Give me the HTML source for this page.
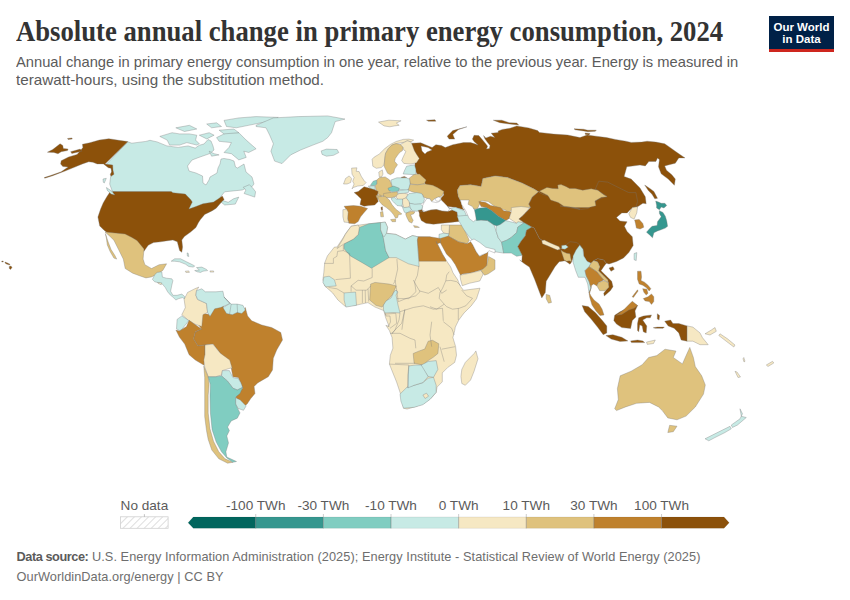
<!DOCTYPE html>
<html><head><meta charset="utf-8">
<style>
html,body{margin:0;padding:0;background:#fff;width:850px;height:600px;overflow:hidden;position:relative}
body{font-family:"Liberation Sans",sans-serif}
.t{position:absolute;white-space:nowrap;transform-origin:0 0}
#title{left:16px;top:15px;font-family:"Liberation Serif",serif;font-weight:bold;font-size:29px;color:#333;line-height:32px;transform:scaleX(0.92)}
.sub{left:16px;font-size:15px;color:#5b5b5b;line-height:18px}
.foot{left:16.5px;font-size:12.75px;color:#6e6e6e;line-height:14px;letter-spacing:0.06px}
.foot b{color:#5b5b5b;letter-spacing:-0.45px}
#logo{position:absolute;left:769px;top:16px;width:65px;height:33px;background:#002147;border-bottom:3px solid #ce261e;color:#fff;font-weight:bold;font-size:11.5px;line-height:12px;text-align:center}
</style></head><body>
<svg id="map" width="850" height="600" style="position:absolute;left:0;top:0" stroke="#777" stroke-width="0.35" stroke-linejoin="round">
<defs><pattern id="hatch" width="4" height="4" patternUnits="userSpaceOnUse" patternTransform="rotate(45)"><rect width="4" height="4" fill="#fff"/><line x1="0" y1="0" x2="0" y2="4" stroke="#ccc" stroke-width="1.5"/></pattern></defs>
<path d="M127.8,141.8L131.8,143.2L145.9,141.4L150.0,140.3L157.1,141.9L166.9,145.9L178.2,147.4L188.1,145.9L195.2,148.1L199.4,145.2L204.0,144.0L208.0,139.5L211.0,141.0L213.0,146.0L214.0,150.0L210.0,153.5L200.0,157.0L192.0,160.0L187.5,166.0L189.0,171.0L196.0,173.0L202.5,176.0L203.0,183.0L206.0,185.0L209.0,180.0L210.0,177.0L217.0,173.0L218.0,168.0L220.0,164.0L221.0,159.0L224.0,158.5L230.0,159.5L234.0,161.0L235.5,167.0L237.5,168.0L244.0,164.0L246.0,172.0L252.0,177.0L254.0,184.0L250.0,189.0L249.4,186.5L242.3,190.0L233.5,190.9L224.7,191.8L220.3,197.1L222.9,200.6L228.2,202.3L233.5,198.8L238.8,197.1L235.3,204.1L224.7,205.0L221.2,202.3L214.1,209.4L207.1,212.9L192.9,212.9L175.3,200.6L140.0,200.6L112.3,191.2L109.7,184.1L110.6,177.0L111.5,173.0L111.5,168.5L106.0,164.5Z" fill="#c7eae5"/>
<path d="M243.2,187.3L249.4,184.7L252.9,188.2L255.6,191.8L254.7,197.1L249.4,195.3L244.1,193.5L245.9,190.0Z" fill="#c7eae5"/>
<path d="M127.9,141.6L120.5,140.6L108.8,138.7L99.3,140.1L89.8,142.7L82.4,144.3L82.9,147.5L81.3,149.6L77.1,154.4L68.6,157.0L61.2,160.7L60.6,163.9L62.8,166.5L68.1,167.1L61.2,171.8L50.6,175.5L44.2,177.6L44.8,178.2L52.7,175.7L64.4,171.3L74.9,167.1L82.4,163.9L88.7,161.8L92.9,162.3L97.2,163.9L103.5,163.9L108.3,167.7L111.0,168.3L111.7,171.7L110.3,174.3L111.0,176.3L114.0,174.3L113.0,170.3L112.7,165.0L105.0,164.0Z" fill="#8c510a"/>
<path d="M103.0,179.0L106.3,178.3L104.3,183.0L103.3,182.3Z" fill="#c7eae5"/>
<path d="M47.4,152.2L52.7,149.6L60.1,143.8L62.8,145.4L63.3,148.5L68.1,149.1L67.5,150.6L61.2,151.7L58.0,153.8L53.8,152.4Z" fill="#8c510a"/>
<path d="M70.7,151.7L80.2,149.1L81.8,151.2L71.8,153.5Z" fill="#8c510a"/>
<path d="M67.5,138.5L71.8,137.9L72.3,139.0L68.1,139.5Z" fill="#8c510a"/>
<path d="M110.3,191.5L171.2,191.5L172.9,192.7L185.3,194.1L186.2,195.0L190.6,199.4L192.3,202.1L188.8,209.1L195.9,206.5L202.9,203.8L213.5,202.1L218.8,198.5L222.3,195.9L224.1,199.4L220.6,202.9L216.2,208.2L211.8,210.9L204.7,214.4L200.3,219.7L198.5,222.4L195.9,227.6L190.6,232.1L184.4,236.5L181.8,240.0L182.6,247.1L181.8,252.3L179.6,250.6L177.3,241.8L172.9,240.0L165.9,240.9L160.6,241.8L153.5,242.6L148.2,245.3L143.8,251.5L141.2,247.1L135.9,240.9L132.4,238.2L127.1,236.5L116.5,233.8L107.6,232.9L104.1,230.3L99.7,225.9L97.9,217.1L100.6,209.1L103.2,202.9L106.8,196.8Z" fill="#8c510a"/>
<path d="M105.0,232.0L125.0,234.0L131.0,237.0L137.0,240.5L144.0,249.0L143.1,259.1L144.9,264.7L151.5,268.5L159.1,264.7L166.6,263.8L162.8,270.4L157.2,274.1L151.5,276.9L145.9,277.9L140.2,276.0L132.7,273.2L125.2,268.5L123.3,259.1L118.6,249.6L113.9,240.2L110.1,236.5Z" fill="#dfc27d"/>
<path d="M105.4,233.6L108.2,242.1L111.1,249.6L114.8,255.3L116.7,259.1L113.9,258.1L110.1,251.5L107.3,244.9L106.4,238.4Z" fill="#dfc27d"/>
<path d="M106.4,187.5L112.0,191.3L114.8,195.1L111.1,194.1L107.3,190.4Z" fill="#c7eae5"/>
<path d="M216.6,137.6L226.5,132.7L238.8,132.7L246.2,140.1L256.1,148.8L248.7,152.5L243.8,151.2L246.2,157.4L238.8,159.9L231.4,153.7L224.0,152.5L228.9,147.5L231.4,142.6L219.1,141.3Z" fill="#c7eae5"/>
<path d="M209.2,151.2L214.1,153.7L219.1,154.9L211.6,156.2Z" fill="#c7eae5"/>
<path d="M159.8,136.4L172.1,132.7L179.5,133.9L189.4,133.9L196.8,135.2L195.6,140.1L199.3,143.8L196.8,145.1L186.9,142.6L179.5,145.1L169.6,145.1L167.2,140.1Z" fill="#c7eae5"/>
<path d="M175.8,127.8L189.4,125.3L196.8,129.0L184.5,131.5Z" fill="#c7eae5"/>
<path d="M199.3,135.2L209.2,132.7L214.1,135.2L206.7,138.9Z" fill="#c7eae5"/>
<path d="M206.7,124.0L216.6,122.8L221.5,126.5L211.6,127.8Z" fill="#c7eae5"/>
<path d="M219.1,130.2L233.9,129.0L238.8,132.7L224.0,133.9Z" fill="#c7eae5"/>
<path d="M224.0,120.4L238.8,117.9L256.1,116.6L278.3,117.4L273.4,120.4L261.0,122.8L248.7,125.3L236.3,127.8L226.5,126.5Z" fill="#c7eae5"/>
<path d="M9.2,266.5L11.0,266.0L12.0,267.5L10.5,269.5L9.3,268.5Z" fill="#8c510a"/>
<path d="M5.0,262.0L7.5,263.0L10.0,264.2L9.5,265.0L6.5,264.0L5.0,263.0Z" fill="#8c510a"/>
<path d="M1.8,261.0L3.2,261.0L3.2,262.0L1.8,262.0Z" fill="#8c510a"/>
<path d="M256.1,125.3L273.4,117.9L298.1,116.6L327.7,115.9L345.0,119.1L335.2,121.6L331.5,132.7L327.7,137.6L322.8,141.3L312.9,145.1L300.6,150.0L290.7,154.9L282.0,163.6L274.6,161.1L270.9,151.2L273.4,143.8L269.7,135.2L266.0,127.8L256.1,126.5Z" fill="#c7eae5"/>
<path d="M321.2,150.9L326.5,149.1L337.1,149.5L338.8,152.6L333.5,155.3L326.5,156.2L322.1,154.4Z" fill="#c7eae5"/>
<path d="M411.8,143.2L420.8,142.8L426.0,145.0L432.1,147.5L435.9,144.7L441.5,145.6L445.3,147.5L452.8,144.7L463.5,142.6L470.6,142.6L474.7,143.8L478.0,145.0L474.0,141.5L472.4,139.1L474.1,135.3L478.8,135.6L482.4,139.7L485.3,143.2L487.6,146.2L486.5,149.1L489.4,148.5L490.0,145.6L487.6,142.6L485.0,139.0L483.5,135.6L485.9,137.9L490.6,136.2L494.7,137.4L491.2,133.2L498.2,132.6L498.2,130.9L502.4,129.4L510.0,128.2L516.8,125.9L528.8,127.9L537.6,130.6L539.4,132.4L553.5,134.1L567.6,135.0L580.0,137.6L587.1,135.0L594.1,135.9L606.5,137.6L615.3,139.4L625.9,141.2L631.2,142.4L641.8,142.1L647.1,141.2L655.9,142.1L664.7,143.8L670.0,147.4L677.1,152.6L685.0,157.9L678.8,157.9L675.3,163.2L668.2,165.0L664.7,165.9L666.5,170.3L671.8,174.7L675.3,179.1L674.4,185.3L668.2,179.1L661.2,173.8L658.5,166.8L659.4,159.7L657.6,157.9L655.9,161.5L648.8,161.5L645.3,165.9L640.0,165.0L626.8,166.8L624.1,176.5L631.2,179.1L640.0,187.9L645.3,196.8L646.2,203.8L642.9,203.2L637.6,206.8L627.1,210.3L595.3,210.3L560.0,210.3L538.5,191.8L534.1,189.1L521.8,182.9L507.6,177.6L495.3,175.9L482.9,178.5L481.2,186.5L470.6,184.7L460.0,185.6L457.4,190.0L458.2,196.2L460.9,201.5L462.7,208.2L464.6,210.1L455.2,207.3L447.6,206.4L441.1,201.6L441.1,197.9L443.9,195.1L443.0,192.0L436.0,190.0L427.0,187.0L423.0,180.0L420.0,175.5L416.7,173.5L414.8,167.9L415.0,163.0L417.5,158.5L413.0,151.0L411.0,145.0Z" fill="#8c510a"/>
<path d="M447.2,136.2L452.8,130.6L466.9,126.8L458.5,129.6L452.8,134.4L454.7,139.1L449.1,139.1Z" fill="#8c510a"/>
<path d="M421.0,146.0L428.0,147.5L432.0,150.0L427.0,152.0L425.0,154.0L422.0,151.0Z" fill="#ffffff"/>
<path d="M378.5,122.1L388.8,120.2L401.1,120.8L396.4,123.1L399.2,125.3L394.5,125.9L389.8,126.8L384.1,125.9Z" fill="#f6e8c3"/>
<path d="M426.5,120.2L434.9,119.7L435.9,121.2L428.4,121.2Z" fill="#8c510a"/>
<path d="M493.3,120.2L501.8,120.2L509.3,122.7L516.8,123.1L518.7,124.9L509.3,124.0L499.9,122.7Z" fill="#8c510a"/>
<path d="M644.7,185.0L650.2,188.7L653.9,191.4L657.5,198.3L654.8,198.8L652.0,194.2L648.3,190.5L646.5,187.8Z" fill="#8c510a"/>
<path d="M457.4,190.0L460.0,185.6L470.6,184.7L481.2,186.5L482.9,178.5L495.3,175.9L507.6,177.6L521.8,182.9L534.1,189.1L538.5,191.8L532.3,197.1L528.8,204.1L530.6,207.6L518.2,208.5L511.2,210.3L507.6,212.9L505.9,210.3L495.3,206.8L488.2,201.5L481.2,200.6L477.6,208.5L470.6,209.4L465.3,205.0L460.9,201.5L458.2,196.2Z" fill="#dfc27d"/>
<path d="M574.0,128.8L583.6,129.2L587.8,130.2L596.3,130.2L595.3,131.3L587.8,131.7L583.6,130.9L575.1,129.8Z" fill="#8c510a"/>
<path d="M585.0,133.0L590.0,133.5L589.0,135.0L585.5,134.5Z" fill="#8c510a"/>
<path d="M372.1,159.2L374.2,157.1L379.1,154.2L384.8,148.6L390.4,144.4L396.1,141.5L403.1,139.4L408.8,139.1L413.7,140.1L410.9,141.9L407.3,140.8L404.5,142.2L400.3,142.9L396.1,143.6L391.8,145.1L388.3,148.6L385.5,153.5L384.8,158.5L384.1,164.8L381.2,167.6L376.3,168.3L372.8,166.2Z" fill="#f6e8c3"/>
<path d="M384.8,158.5L385.5,153.5L388.3,148.6L391.8,145.1L396.1,143.6L400.3,144.4L403.1,147.2L402.4,150.7L400.3,152.1L398.2,154.2L395.3,158.5L394.6,161.3L397.5,164.8L394.6,169.1L393.9,172.6L390.4,174.7L387.6,173.3L384.1,166.2Z" fill="#dfc27d"/>
<path d="M400.3,144.4L404.5,142.2L407.3,140.8L410.9,141.9L412.3,145.1L414.4,150.7L416.5,154.2L419.3,158.5L416.5,162.7L410.9,164.1L403.8,163.4L401.7,160.6L403.1,157.1L404.5,154.2L405.9,151.4L403.8,150.0L403.1,147.2Z" fill="#f6e8c3"/>
<path d="M406.6,166.2L414.4,164.8L415.8,169.1L415.8,174.7L403.1,174.0L404.5,170.5Z" fill="#c7eae5"/>
<path d="M409.2,178.2L413.9,174.5L419.5,174.0L426.1,180.1L424.2,183.9L417.6,184.8L410.1,183.9Z" fill="#dfc27d"/>
<path d="M401.2,177.3L404.5,176.4L406.8,177.8L401.6,178.0Z" fill="#8c510a"/>
<path d="M390.8,180.1L396.9,177.8L406.4,177.8L409.6,179.2L410.1,183.9L409.2,189.5L406.4,190.5L398.8,189.5L392.2,186.7Z" fill="#c7eae5"/>
<path d="M376.7,180.1L379.5,177.6L385.2,176.9L389.4,179.8L390.8,182.6L392.2,186.8L389.4,189.6L390.8,192.5L388.0,195.3L380.2,196.0L377.4,193.2L376.0,189.6L375.3,185.8L376.7,184.0Z" fill="#dfc27d"/>
<path d="M378.8,172.0L382.3,169.9L383.0,174.1L381.6,176.9L379.2,176.6Z" fill="#f6e8c3"/>
<path d="M370.3,185.4L373.2,181.2L376.7,180.1L376.7,184.0L374.6,185.8Z" fill="#80cdc1"/>
<path d="M368.2,186.1L374.6,185.8L375.3,189.6L371.8,189.6Z" fill="#c7eae5"/>
<path d="M351.6,168.1L356.9,167.8L356.2,171.3L359.1,171.6L361.2,176.2L364.0,180.5L366.1,182.6L363.3,185.4L357.6,186.1L353.4,187.5L352.0,188.9L354.1,184.0L352.7,181.2L354.1,177.6L352.0,174.1Z" fill="#f6e8c3"/>
<path d="M343.5,184.0L345.6,178.4L349.2,175.9L351.6,178.4L350.6,182.6L347.1,184.0Z" fill="#f6e8c3"/>
<path d="M408.2,190.0L410.1,184.4L417.6,184.8L425.2,183.9L432.7,185.3L437.4,187.6L444.0,191.4L442.1,196.1L436.5,198.0L434.5,198.8L431.6,201.6L429.8,198.8L426.9,198.4L423.2,196.9L423.3,195.2L417.6,193.3L411.1,191.4Z" fill="#dfc27d"/>
<path d="M422.2,206.4L424.1,202.6L426.9,198.4L429.8,198.8L431.6,201.6L436.4,202.6L439.2,201.6L441.1,199.8L443.9,202.6L447.6,206.4L449.5,209.2L447.6,211.5L442.0,211.1L436.4,209.6L430.7,210.1L425.1,211.5L422.2,210.1Z" fill="#ffffff"/>
<path d="M434.9,198.8L438.2,196.9L441.1,197.9L439.2,201.2L436.4,201.2Z" fill="#ffffff"/>
<path d="M354.1,192.6L358.2,191.5L364.1,186.8L368.8,187.9L374.7,189.7L378.2,191.5L377.1,196.8L378.2,201.5L374.7,205.0L368.8,205.6L364.1,206.2L360.0,204.4L361.2,199.1L357.6,195.6Z" fill="#8c510a"/>
<path d="M344.1,206.2L353.5,205.6L360.6,206.2L367.6,208.5L364.1,212.6L360.6,216.8L358.2,221.5L354.7,223.8L348.8,223.2L347.6,219.1L346.5,209.7Z" fill="#bf812d"/>
<path d="M342.9,209.7L346.5,209.1L348.2,212.1L347.6,219.1L348.8,222.6L344.1,222.1L342.9,216.8Z" fill="#f6e8c3"/>
<path d="M383.6,193.5L389.9,192.6L397.0,191.7L397.8,193.8L396.6,196.3L391.4,197.7L383.6,197.4Z" fill="#dfc27d"/>
<path d="M375.9,195.6L380.6,195.0L381.8,197.9L377.1,198.5Z" fill="#dfc27d"/>
<path d="M377.6,196.8L385.0,196.3L389.2,199.8L392.1,204.8L395.6,209.0L399.1,211.8L401.9,213.9L400.5,214.6L398.4,214.6L397.7,217.5L395.6,218.2L393.5,214.6L390.6,211.1L386.4,207.6L382.5,205.0L379.4,201.5L378.2,199.1Z" fill="#dfc27d"/>
<path d="M390.6,219.6L395.6,218.9L395.6,221.7L392.1,221.7Z" fill="#dfc27d"/>
<path d="M380.4,212.1L382.9,211.5L383.5,216.8L380.8,216.8Z" fill="#dfc27d"/>
<path d="M380.9,207.4L382.4,206.8L382.6,210.3L381.4,210.3Z" fill="#8c510a"/>
<path d="M388.0,188.2L393.6,186.1L399.3,188.2L398.6,191.1L392.2,191.8L388.7,190.3Z" fill="#80cdc1"/>
<path d="M397.0,191.7L400.5,190.3L408.3,189.6L409.0,192.1L404.1,193.5L399.1,193.8L397.7,192.8Z" fill="#c7eae5"/>
<path d="M396.3,195.6L399.1,193.6L404.1,193.3L407.9,194.0L406.2,198.1L402.6,199.5L398.4,199.5L396.3,197.4Z" fill="#f6e8c3"/>
<path d="M391.4,198.1L394.9,197.4L396.3,199.1L402.6,199.1L403.0,201.2L401.9,206.2L397.0,205.5L393.5,201.9L391.7,200.2Z" fill="#c7eae5"/>
<path d="M405.8,198.1L409.0,193.6L416.8,192.6L421.7,193.5L424.5,199.1L423.5,202.6L420.3,204.2L414.6,204.6L409.7,203.5L408.3,201.2Z" fill="#c7eae5"/>
<path d="M402.6,199.1L406.2,197.8L409.0,201.6L410.1,205.5L407.6,207.9L403.7,207.9L402.6,203.4Z" fill="#f6e8c3"/>
<path d="M409.4,203.2L414.6,204.2L420.3,203.9L422.8,206.2L421.4,210.1L416.8,211.3L411.8,210.6L410.1,207.6Z" fill="#c7eae5"/>
<path d="M401.9,205.8L404.1,207.6L409.4,206.9L411.5,209.7L408.3,212.2L406.2,213.2L404.4,212.2Z" fill="#c7eae5"/>
<path d="M406.0,213.1L411.1,211.3L415.0,211.8L413.6,213.9L410.6,214.8L412.0,218.2L413.2,220.3L411.8,223.1L409.0,221.7L406.9,217.5L405.8,214.6Z" fill="#dfc27d"/>
<path d="M413.5,225.6L417.1,226.2L419.4,227.4L414.7,227.6Z" fill="#dfc27d"/>
<path d="M418.2,210.4L421.7,209.7L423.1,211.8L419.6,213.2Z" fill="#8c510a"/>
<path d="M419.4,211.1L424.1,212.0L430.7,210.1L436.4,209.6L442.0,211.1L447.6,211.5L452.4,210.1L457.1,212.0L458.0,217.6L458.9,221.4L450.5,222.4L442.0,223.3L433.5,224.2L426.0,223.3L421.3,220.5L419.4,215.8Z" fill="#8c510a"/>
<path d="M447.6,206.4L449.5,208.5L455.2,207.3L462.7,210.1L464.6,211.0L466.5,215.8L462.7,217.6L458.0,217.6L457.1,212.0L452.4,210.1Z" fill="#c7eae5"/>
<path d="M449.5,225.0L462.3,225.0L469.3,240.2L467.0,243.7L458.8,241.9L448.3,236.1L448.9,233.8Z" fill="#dfc27d"/>
<path d="M441.3,225.0L449.5,225.0L448.9,233.8L443.7,233.2L441.3,229.7Z" fill="#f6e8c3"/>
<path d="M439.0,234.3L443.7,233.2L448.9,233.8L448.3,236.1L440.2,242.5L439.0,237.8Z" fill="#c7eae5"/>
<path d="M440.2,238.4L448.3,236.1L458.8,241.9L467.0,243.7L471.7,241.3L472.8,244.8L476.3,251.8L479.8,256.5L488.0,251.8L486.8,265.8L483.3,269.3L471.7,272.8L462.3,274.0L460.6,275.2L458.8,271.7L455.3,264.7L451.3,258.8L446.6,254.2L440.2,242.5Z" fill="#bf812d"/>
<path d="M460.0,275.2L471.7,272.8L481.0,270.5L483.3,274.0L479.8,281.0L469.3,283.3L462.3,285.7L460.6,279.8Z" fill="#f6e8c3"/>
<path d="M481.0,270.5L486.8,265.8L488.6,256.5L495.0,260.0L495.0,269.3L488.0,274.0L484.5,275.2Z" fill="#dfc27d"/>
<path d="M457.2,216.2L468.0,215.2L476.7,220.0L481.0,220.0L487.5,220.6L494.0,224.9L496.2,231.4L498.3,237.9L501.6,242.2L502.7,247.7L503.7,253.1L496.2,252.0L490.7,249.8L482.1,248.7L476.7,245.5L473.4,241.2L469.1,236.8L463.7,229.2L459.3,221.7Z" fill="#c7eae5"/>
<path d="M469.9,240.8L472.8,244.8L476.3,251.8L479.3,255.9L486.8,253.0L489.2,250.7L495.0,253.0L495.0,249.5L485.7,247.2L479.8,242.5L474.0,239.0Z" fill="#ffffff"/>
<path d="M478.8,201.6L485.3,202.2L490.7,205.4L500.5,207.6L503.7,210.8L511.3,211.9L509.2,218.4L505.9,220.6L498.3,216.2L491.8,210.8L486.4,207.6L481.0,206.5Z" fill="#bf812d"/>
<path d="M472.5,207.5L474.5,209.7L479.9,208.1L486.4,207.6L491.8,210.8L498.3,216.2L505.9,220.6L500.5,224.4L498.3,226.5L494.0,224.9L487.5,220.6L481.0,220.0L476.5,220.5L474.0,213.0Z" fill="#35978f"/>
<path d="M511.3,207.6L521.1,206.5L529.7,207.6L525.4,213.0L522.2,216.2L518.9,219.0L524.3,222.7L516.7,223.3L509.2,218.4L511.3,211.9Z" fill="#f6e8c3"/>
<path d="M496.2,226.0L500.5,224.4L505.9,220.6L516.7,223.3L517.8,221.7L524.3,222.7L517.8,227.1L516.7,232.5L511.3,237.4L507.0,240.1L501.6,242.2L498.3,237.9L496.2,231.4Z" fill="#c7eae5"/>
<path d="M501.6,242.2L507.0,240.1L511.3,237.4L516.7,232.5L517.8,227.1L524.3,222.7L531.9,227.1L526.5,230.3L525.4,235.7L521.1,241.2L517.8,246.6L522.2,255.2L516.7,256.3L511.3,253.1L503.7,253.1L502.7,247.7Z" fill="#80cdc1"/>
<path d="M460.4,200.0L469.1,200.0L468.0,204.3L472.3,206.5L474.5,210.0L475.5,215.0L476.2,219.5L473.4,221.7L469.1,218.4L465.8,210.8L461.5,204.3Z" fill="#ffffff"/>
<path d="M606.8,196.2L595.3,189.1L598.8,181.2L607.6,182.1L618.2,187.4L628.8,192.6L635.9,192.6L637.6,201.5L635.9,206.8L632.3,207.6L627.1,212.9L621.8,212.9L616.5,217.4L620.0,220.9L627.1,221.8L624.4,226.2L627.1,231.5L632.3,236.8L633.2,245.6L628.8,252.6L623.5,257.9L616.5,261.5L609.0,264.0L606.3,263.3L603.7,260.0L597.7,258.7L593.7,260.7L591.0,263.3L587.0,261.3L583.7,256.0L583.0,249.3L579.7,245.3L575.0,243.0L570.6,242.9L565.3,247.3L560.6,249.1L553.5,245.6L544.7,242.1L539.4,238.5L534.1,227.9L531.9,227.1L524.3,222.7L518.9,219.0L522.2,216.2L525.4,213.0L530.6,207.6L528.8,204.1L532.3,197.1L538.5,191.8L542.9,194.4L550.0,196.2L558.8,201.5L571.2,206.8L580.0,209.4L560.0,205.9L570.6,206.8L581.2,209.4L588.2,208.5L593.5,204.1L597.1,199.7Z" fill="#8c510a"/>
<path d="M517.8,246.6L521.1,241.2L525.4,235.7L526.5,230.3L531.9,227.1L534.1,227.9L539.4,238.5L544.7,242.1L553.5,245.6L560.6,249.1L570.0,241.7L576.7,242.5L580.0,245.0L583.3,249.2L581.7,252.5L580.0,255.0L573.3,256.7L571.7,261.7L570.0,264.2L565.0,260.8L559.2,261.7L555.0,266.7L550.6,274.1L546.2,281.2L545.3,292.6L541.8,297.9L540.0,293.5L534.7,279.4L529.4,267.1L524.1,263.5L519.7,260.0L521.8,261.5L522.2,255.2Z" fill="#8c510a"/>
<path d="M541.7,240.8L544.2,240.0L549.2,242.5L555.0,245.0L559.2,246.7L560.0,249.2L557.5,250.0L553.3,248.3L547.5,245.8L542.5,243.8Z" fill="#f6e8c3"/>
<path d="M561.7,245.4L565.8,245.0L568.3,247.1L565.0,249.2L561.7,248.8Z" fill="#c7eae5"/>
<path d="M560.8,250.0L563.3,251.7L566.7,253.3L570.0,253.8L570.8,258.3L571.7,261.7L569.2,260.8L566.7,261.3L564.2,260.0L562.5,255.0Z" fill="#dfc27d"/>
<path d="M632.3,207.6L637.6,206.8L636.8,212.9L634.1,219.1L630.6,217.4L628.8,213.8Z" fill="#f6e8c3"/>
<path d="M634.6,219.9L639.2,219.4L642.8,223.5L643.8,227.2L640.1,229.0L636.4,228.1L635.5,223.5Z" fill="#bf812d"/>
<path d="M655.7,201.1L658.4,202.0L661.2,203.3L664.9,203.3L666.7,205.6L663.9,207.9L661.2,207.0L659.4,209.8L656.6,207.9L656.6,205.2Z" fill="#35978f"/>
<path d="M659.4,210.7L663.0,212.5L665.3,216.2L666.7,220.8L667.6,226.3L665.3,228.1L660.3,230.0L657.5,230.9L653.9,232.7L652.5,237.8L649.7,235.0L646.5,232.2L649.3,229.0L652.0,226.3L657.1,225.4L657.5,221.7L661.2,216.7L659.4,213.4Z" fill="#35978f"/>
<path d="M634.1,253.5L636.8,252.6L636.2,260.6L634.1,259.7Z" fill="#c7eae5"/>
<path d="M609.0,268.0L613.0,266.7L614.3,269.3L611.0,271.3Z" fill="#8c510a"/>
<path d="M539.4,191.2L546.9,187.4L552.6,188.4L558.2,188.8L557.8,185.1L561.1,184.6L565.8,186.5L569.5,188.4L575.2,188.4L582.7,190.2L591.2,188.8L597.8,190.2L603.4,194.5L607.2,196.8L601.5,197.3L594.9,201.1L595.9,205.8L588.4,207.6L575.2,207.6L563.9,206.2L558.2,202.5L550.7,200.1L547.9,195.4Z" fill="#dfc27d"/>
<path d="M351.2,226.2L359.4,225.0L368.8,223.8L380.6,222.6L385.3,222.1L387.6,227.4L386.5,233.2L395.9,234.4L405.3,239.1L412.4,235.6L418.2,236.8L430.0,237.0L436.1,241.3L442.5,254.2L446.0,260.0L450.7,267.0L453.0,272.8L457.7,279.8L460.0,285.7L463.5,290.3L465.9,290.0L472.9,289.1L480.0,288.2L476.5,298.8L471.2,305.9L464.1,312.9L458.8,320.0L455.3,327.1L454.7,330.6L452.9,337.6L455.6,346.5L456.5,355.3L454.7,362.4L447.6,367.6L442.3,372.9L442.3,381.8L437.1,387.1L436.2,392.3L431.8,397.6L424.7,402.9L415.9,406.5L407.1,409.1L403.5,408.2L402.6,401.2L400.0,392.3L396.5,381.8L392.9,372.9L389.4,364.1L390.3,355.3L392.9,348.2L392.1,337.6L389.4,330.6L385.9,325.3L389.1,326.5L385.6,317.6L383.8,310.6L375.0,307.1L367.9,302.6L355.6,305.3L345.0,306.2L337.9,300.0L332.6,292.9L324.7,285.9L322.9,279.7L323.8,272.6L324.7,262.9L327.4,255.9L334.4,247.1L337.0,247.0L343.0,238.0L346.0,233.0Z" fill="#f6e8c3"/>
<path d="M359.4,227.4L368.8,223.8L380.6,222.6L380.6,229.7L382.9,235.6L384.1,240.3L385.6,250.6L389.1,257.6L371.5,268.2L362.6,262.9L350.3,255.9L344.1,248.8L344.1,244.4L344.1,243.8L353.5,239.1L358.2,234.4Z" fill="#80cdc1"/>
<path d="M385.3,233.2L395.9,234.4L405.3,239.1L412.4,235.6L418.2,236.8L417.4,240.0L419.1,266.5L408.5,263.8L396.2,257.6L389.1,257.6L385.6,250.6L382.9,235.6Z" fill="#c7eae5"/>
<path d="M380.6,222.6L385.3,222.1L387.6,227.4L386.5,233.2L384.1,236.8L382.9,235.6L380.6,229.7Z" fill="#c7eae5"/>
<path d="M418.2,236.8L430.0,236.8L440.2,238.4L440.8,242.5L437.0,244.0L436.1,241.3L442.5,254.2L446.0,260.0L446.0,261.2L419.1,261.2L417.4,240.0Z" fill="#bf812d"/>
<path d="M351.2,226.2L358.2,225.0L359.4,227.4L358.2,234.4L353.5,239.1L344.1,243.8L337.1,248.5L342.9,239.1L345.3,234.4Z" fill="#f6e8c3"/>
<path d="M323.8,277.1L329.1,276.2L334.4,279.7L336.2,285.9L325.6,286.8L322.9,282.4Z" fill="#c7eae5"/>
<path d="M344.1,292.9L355.6,292.1L356.5,305.3L345.9,307.1L344.1,300.0Z" fill="#c7eae5"/>
<path d="M370.6,284.1L375.0,282.4L389.1,284.1L396.2,285.9L392.6,294.7L387.3,300.0L382.1,307.1L375.9,305.3L369.7,300.0Z" fill="#dfc27d"/>
<path d="M383.5,305.0L386.0,301.0L391.0,298.0L394.0,292.0L396.0,290.0L398.0,292.0L396.0,295.0L398.0,305.0L400.0,313.0L393.0,312.5L385.0,313.0L383.5,310.0Z" fill="#c7eae5"/>
<path d="M413.2,353.5L419.4,350.9L424.7,349.1L428.2,341.2L432.6,340.3L438.8,343.8L437.9,353.5L433.5,357.1L428.2,360.6L422.9,365.0L414.1,363.2Z" fill="#dfc27d"/>
<path d="M400.0,394.1L407.1,387.1L414.1,385.3L422.9,382.6L428.2,378.2L433.5,377.3L436.2,385.3L436.2,392.3L430.0,399.4L422.9,404.7L414.1,407.3L403.5,408.2L400.9,401.2Z" fill="#c7eae5"/>
<path d="M408.8,365.9L415.9,365.0L422.9,365.0L428.2,376.5L422.9,382.6L414.1,385.3L407.9,387.9L407.9,374.7Z" fill="#c7eae5"/>
<path d="M421.2,365.0L428.2,361.5L436.2,360.6L437.9,369.4L433.5,377.3L428.2,376.5Z" fill="#c7eae5"/>
<path d="M422.9,395.0L426.5,393.2L428.6,396.2L425.1,398.5Z" fill="#f6e8c3"/>
<path d="M461.8,369.4L465.3,362.4L468.8,358.8L474.1,353.5L475.9,350.9L478.0,358.8L474.1,371.2L470.6,380.0L465.3,385.3L461.8,383.5L460.9,376.5Z" fill="#f6e8c3"/>
<path d="M546.2,294.4L549.7,295.3L551.5,302.4L548.5,303.2L546.2,298.8Z" fill="#dfc27d"/>
<path d="M579.7,245.0L583.0,249.3L583.7,256.0L587.0,261.3L591.0,263.3L589.0,266.7L585.0,270.7L586.3,276.0L589.0,281.3L591.0,288.0L589.0,292.7L587.7,284.0L585.0,277.3L578.3,277.3L575.7,270.7L573.0,262.0L573.0,256.0L576.0,250.0Z" fill="#c7eae5"/>
<path d="M593.7,260.7L597.7,258.7L603.7,260.0L606.3,263.3L603.7,266.7L601.0,270.7L606.3,276.0L611.7,281.3L613.0,286.7L610.3,290.7L604.3,296.0L603.7,293.3L607.7,288.0L608.3,282.7L607.7,280.0L603.7,276.0L598.3,270.7L599.7,266.7L597.7,262.0Z" fill="#8c510a"/>
<path d="M591.0,263.3L593.7,260.7L597.7,262.0L599.7,266.7L598.3,270.7L603.7,276.0L607.7,280.0L608.3,282.7L603.7,280.0L600.3,276.0L597.0,272.0L592.3,268.7L589.0,266.7Z" fill="#dfc27d"/>
<path d="M585.0,270.7L589.0,266.7L592.3,268.7L597.0,272.0L600.3,276.0L603.7,280.0L598.3,282.7L597.0,286.0L593.7,284.0L591.7,285.3L589.7,293.3L591.0,296.0L594.0,300.0L599.0,304.0L602.0,309.0L604.0,315.0L600.0,315.5L596.0,311.0L592.0,305.0L589.7,297.3L589.0,292.7L591.0,288.0L589.0,281.3L586.3,276.0Z" fill="#bf812d"/>
<path d="M597.0,286.0L598.3,282.7L603.7,280.7L608.3,282.7L609.0,287.3L605.0,290.7L599.7,290.7Z" fill="#dfc27d"/>
<path d="M582.1,305.6L588.2,306.5L595.3,312.6L602.4,320.6L606.8,325.9L606.8,332.9L603.2,334.7L597.9,327.6L590.9,318.8L584.7,311.8Z" fill="#8c510a"/>
<path d="M605.9,335.6L612.9,334.7L621.8,337.3L627.9,340.9L620.0,341.4L611.2,339.1Z" fill="#8c510a"/>
<path d="M614.7,315.3L620.0,311.8L627.1,308.2L632.3,302.9L637.6,305.6L635.0,310.9L635.9,317.1L632.3,320.6L630.6,328.5L621.8,327.6L616.5,324.1L613.8,320.6Z" fill="#8c510a"/>
<path d="M616.5,315.3L623.5,310.0L629.7,303.8L632.3,301.2L637.6,305.6L634.1,308.2L628.8,310.0L621.8,314.4Z" fill="#bf812d"/>
<path d="M638.7,317.8L643.3,316.1L651.5,314.9L650.3,317.8L646.8,317.8L642.7,320.1L645.1,323.6L646.8,326.0L646.2,333.0L643.3,331.8L642.2,326.0L639.8,324.8L638.7,331.8L637.5,330.6L637.5,323.6Z" fill="#8c510a"/>
<path d="M637.5,271.2L641.0,271.2L641.6,277.0L641.0,280.5L644.5,282.2L648.0,285.2L650.9,288.7L649.2,291.0L646.2,287.5L642.7,285.2L639.2,284.0L637.5,279.3Z" fill="#bf812d"/>
<path d="M642.7,288.7L646.8,289.2L648.0,293.3L646.2,295.1L643.9,292.2Z" fill="#bf812d"/>
<path d="M643.3,298.6L648.0,296.8L651.5,293.9L653.8,296.8L653.8,301.5L651.5,304.4L649.2,301.5L645.1,300.9Z" fill="#bf812d"/>
<path d="M632.2,296.8L637.5,289.8L638.1,291.0L633.4,297.4Z" fill="#bf812d"/>
<path d="M664.7,321.2L670.6,320.0L672.9,323.5L678.8,323.5L687.1,325.9L687.1,341.2L681.2,340.0L678.8,332.9L674.1,328.2L668.2,325.9Z" fill="#8c510a"/>
<path d="M687.1,325.9L692.9,327.1L700.0,332.9L702.4,337.6L708.2,344.7L700.0,344.7L692.9,341.2L687.1,341.2Z" fill="#f6e8c3"/>
<path d="M630.6,340.9L637.6,340.0L642.9,340.9L644.7,342.6L637.6,342.6L631.5,342.6Z" fill="#8c510a"/>
<path d="M646.5,342.1L655.3,340.0L653.5,343.5L647.3,344.4Z" fill="#f6e8c3"/>
<path d="M657.3,313.7L659.6,315.5L659.1,320.1L657.3,319.0Z" fill="#8c510a"/>
<path d="M653.2,327.7L657.3,327.1L664.3,327.1L663.1,328.3L655.0,328.3Z" fill="#8c510a"/>
<path d="M614.7,408.8L618.3,399.6L617.4,388.6L620.2,375.8L631.1,371.2L642.1,364.8L648.6,357.5L656.8,355.6L665.0,349.2L676.0,351.1L673.3,357.5L682.4,363.9L686.1,355.6L689.8,347.4L693.4,357.5L695.3,366.6L701.7,375.8L705.3,385.0L703.5,394.1L695.3,407.0L686.1,416.1L677.0,419.8L667.8,417.9L662.3,410.6L658.6,407.0L649.5,402.4L636.6,403.3L625.6,406.9L616.5,410.6Z" fill="#dfc27d"/>
<path d="M669.6,425.3L677.0,426.2L673.3,431.7L667.8,432.6Z" fill="#dfc27d"/>
<path d="M731.3,425.0L740.0,418.8L742.5,413.8L740.0,408.8L741.3,416.3L746.3,417.5L737.5,425.0L732.5,427.5Z" fill="#c7eae5"/>
<path d="M705.0,438.8L712.5,435.0L722.5,430.0L730.0,426.3L731.3,428.8L725.0,432.5L715.0,437.5L708.8,440.8Z" fill="#c7eae5"/>
<path d="M735.0,371.3L737.0,372.0L740.5,377.0L738.0,377.5Z" fill="#f6e8c3"/>
<path d="M705.0,333.8L711.3,330.0L715.0,327.5L716.3,331.3L710.0,335.0Z" fill="#f6e8c3"/>
<path d="M720.0,333.8L727.5,338.8L735.0,345.0L733.8,347.0L726.3,341.3L718.8,335.5Z" fill="#f6e8c3"/>
<path d="M743.8,357.5L745.0,361.3L744.0,362.0L743.0,358.8Z" fill="#f6e8c3"/>
<path d="M766.3,365.0L772.5,361.3L773.8,363.0L768.0,366.5Z" fill="#f6e8c3"/>
<path d="M152.4,279.4L154.7,274.7L157.1,272.4L161.8,271.8L162.4,277.1L166.5,278.2L171.8,278.8L172.9,280.6L171.8,285.3L170.6,291.2L172.9,295.3L177.1,295.3L181.8,294.1L184.7,296.5L185.3,299.4L182.4,297.6L178.2,298.8L175.9,300.0L172.9,297.1L170.6,295.3L167.6,291.8L165.3,287.6L162.4,284.1L159.4,282.9L154.7,281.8Z" fill="#c7eae5"/>
<path d="M157.6,282.4L161.8,282.9L161.2,284.7L158.2,283.5Z" fill="#f6e8c3"/>
<path d="M171.2,261.2L174.7,258.8L180.6,258.8L186.5,261.8L191.2,264.1L194.7,265.9L193.5,267.1L188.8,266.5L185.3,264.1L179.4,261.8L174.7,261.2Z" fill="#c7eae5"/>
<path d="M196.5,267.6L201.8,267.1L206.5,269.4L207.6,270.6L202.9,271.2L200.6,272.4L197.1,271.8L194.7,270.6L199.4,270.0Z" fill="#c7eae5"/>
<path d="M185.3,271.2L188.8,270.9L189.4,272.4L185.9,272.4Z" fill="#f6e8c3"/>
<path d="M210.0,270.9L213.5,270.9L213.8,272.1L210.2,272.1Z" fill="#f6e8c3"/>
<path d="M187.1,252.9L188.2,253.3L188.8,256.5L187.4,256.1Z" fill="#c7eae5"/>
<path d="M200.0,313.0L210.0,314.5L215.9,306.5L222.9,305.5L226.5,311.5L232.4,312.5L242.9,311.5L245.3,307.5L247.6,315.9L251.7,320.8L261.7,325.0L271.7,327.5L280.8,332.5L282.5,340.0L276.7,350.0L273.3,358.3L272.5,370.0L268.3,376.7L257.6,382.9L254.1,386.5L255.0,393.5L250.6,398.8L247.1,404.1L243.5,406.8L238.2,399.7L235.6,397.1L242.6,388.2L240.9,382.9L238.2,377.6L232.9,376.8L231.2,367.9L225.9,360.0L220.0,352.9L212.9,344.1L205.0,345.0L197.9,345.9L193.5,338.8L195.3,331.8L201.5,329.1L198.0,324.0Z" fill="#bf812d"/>
<path d="M184.1,299.4L187.6,292.4L194.7,288.8L198.8,287.1L196.5,290.6L195.9,295.3L197.6,299.4L206.5,303.5L207.6,312.4L202.9,314.7L201.8,326.5L194.7,324.1L188.8,320.6L181.8,314.7L185.3,307.6Z" fill="#f6e8c3"/>
<path d="M196.5,290.6L201.8,288.8L205.3,291.8L215.9,291.8L222.9,291.2L224.1,297.1L230.0,303.5L220.6,307.6L214.7,308.8L210.0,316.5L207.6,312.4L206.5,303.5L197.6,299.4L195.9,295.3Z" fill="#c7eae5"/>
<path d="M224.1,297.1L231.2,304.1L237.1,304.1L242.9,305.3L245.3,310.0L241.8,313.5L237.1,312.4L232.4,314.7L226.5,313.5L222.9,307.6L230.0,303.5Z" fill="#c7eae5"/>
<path d="M177.1,319.4L181.8,315.9L188.8,320.6L184.1,326.5L180.6,331.2L176.5,328.8Z" fill="#c7eae5"/>
<path d="M175.9,330.0L179.4,330.9L186.5,326.5L189.1,320.3L197.9,326.5L201.5,329.1L195.3,331.8L193.5,338.8L197.9,345.9L205.0,345.0L205.0,354.7L204.1,365.3L195.3,360.0L189.1,354.7L184.7,344.1L179.4,337.1Z" fill="#bf812d"/>
<path d="M205.0,345.0L212.9,344.1L220.0,352.9L229.7,360.0L232.3,368.8L231.2,367.9L222.4,370.6L221.5,375.0L215.3,376.8L208.2,376.8L204.7,367.1L203.8,360.0L205.0,354.7Z" fill="#f6e8c3"/>
<path d="M222.4,370.6L229.4,370.6L232.9,377.6L238.2,378.5L240.9,382.9L242.6,387.4L237.3,390.0L232.9,388.2L227.6,381.2L221.5,375.9Z" fill="#c7eae5"/>
<path d="M235.6,397.9L240.0,399.7L246.2,405.9L243.5,410.3L238.2,408.5L235.6,404.1Z" fill="#c7eae5"/>
<path d="M203.8,366.2L208.2,376.8L209.1,384.7L208.2,395.3L208.2,412.9L210.0,428.8L213.5,441.2L218.8,451.8L225.0,458.8L232.9,462.3L227.6,463.2L218.8,458.8L211.8,450.0L208.2,439.4L206.5,430.6L204.7,416.5L204.7,398.8L204.7,377.6Z" fill="#dfc27d"/>
<path d="M208.2,376.8L215.3,376.8L221.5,375.9L227.6,381.2L232.9,388.2L237.3,390.0L242.6,387.4L240.0,393.5L235.6,397.1L235.6,404.1L238.2,409.4L240.0,412.9L237.3,418.2L231.2,420.9L227.6,427.1L229.4,430.6L226.8,435.9L228.5,442.9L225.9,451.8L226.8,457.1L236.5,461.5L232.9,462.3L226.8,457.9L221.5,451.8L216.2,442.1L212.1,429.7L210.4,412.9L210.0,395.3L210.4,384.7Z" fill="#80cdc1"/>
<path fill="none" d="M231.2,304.1L229.5,314.5"/>
<path fill="none" d="M237.1,304.1L237.6,313.0"/>
<path fill="none" d="M324.2,263.4L333.4,263.4L333.4,258.4L336.9,256.3L337.6,251.4L343.3,250.6L343.3,245.0"/>
<path fill="none" d="M343.3,250.6L349.6,253.5L350.4,278.2L335.5,279.6"/>
<path fill="none" d="M372.2,268.3L372.2,277.5L363.8,281.0L358.1,280.3L351.1,285.9L351.1,291.6"/>
<path fill="none" d="M396.9,259.1L397.7,269.0L394.8,281.7L393.4,283.8"/>
<path fill="none" d="M418.8,266.2L417.4,275.4L414.6,281.7L416.0,291.6L408.9,298.6L396.9,298.6"/>
<path fill="none" d="M351.1,285.9L356.0,290.2L366.6,290.2L370.8,285.9"/>
<path fill="none" d="M328.5,287.4L336.9,288.8L344.0,293.0"/>
<path fill="none" d="M362.4,290.2L362.4,302.9"/>
<path fill="none" d="M365.2,290.2L365.5,302.9"/>
<path fill="none" d="M368.0,288.8L368.7,301.5"/>
<path fill="none" d="M404.7,309.9L401.9,329.7"/>
<path fill="none" d="M395.0,280.0L396.7,290.0L398.3,301.7L406.7,298.3L415.8,295.8L420.0,291.7L415.0,283.3L413.3,280.0"/>
<path fill="none" d="M419.2,290.8L428.3,293.3L438.3,287.5L441.7,293.3L446.7,290.0"/>
<path fill="none" d="M400.0,311.7L413.3,307.5L423.3,305.8L433.3,309.2"/>
<path fill="none" d="M433.3,309.2L442.5,308.3L443.3,320.8"/>
<path fill="none" d="M443.3,321.7L451.7,328.3L454.2,335.0"/>
<path fill="none" d="M431.7,321.7L430.0,335.0L431.7,346.7"/>
<path fill="none" d="M441.7,349.2L455.0,346.7"/>
<path fill="none" d="M390.0,333.3L400.0,333.3L410.0,338.3L415.0,340.0L415.8,348.3"/>
<path fill="none" d="M415.0,363.3L395.0,363.3"/>
<path fill="none" d="M385.0,314.2L395.8,313.3L396.7,323.3L390.0,328.3"/>
<path fill="none" d="M405.0,309.2L401.7,323.3L391.7,333.3"/>
<path fill="none" d="M440.0,346.7L444.2,361.7"/>
<path fill="none" d="M408.8,365.0L407.9,387.9"/>
<path fill="none" d="M389.4,364.1L408.8,365.0"/>
<path fill="none" d="M445.8,280.8L450.8,280.4L456.7,281.7L460.8,285.8"/>
<path fill="none" d="M449.2,271.7L446.7,275.0L445.8,280.8L442.5,288.3L440.0,292.5L439.2,298.3L444.2,304.2"/>
<path fill="none" d="M461.7,290.0L466.7,295.8L472.5,298.3L465.8,305.8L459.2,308.3L452.5,309.2L446.7,306.7L444.2,304.2"/>
<path fill="none" d="M458.3,308.3L458.3,320.0"/>
<path fill="none" d="M430.0,306.7L436.7,309.2L444.2,304.2"/>
<path fill="none" d="M385.0,313.0L386.0,316.0L390.0,316.0L390.5,322.0L388.0,327.0"/>
<path fill="none" d="M400.0,313.0L399.0,320.0L395.0,330.0L392.0,334.0"/>
</svg>
<svg id="legend" width="850" height="600" style="position:absolute;left:0;top:0" font-family="Liberation Sans" font-size="13.6" fill="#5b5b5b">
<defs><pattern id="hatch2" width="5" height="5" patternUnits="userSpaceOnUse" patternTransform="rotate(45)"><rect width="5" height="5" fill="#fff"/><line x1="0" y1="0" x2="0" y2="5" stroke="#d6d6d6" stroke-width="1.6"/></pattern></defs>
<rect x="120.5" y="516.8" width="47.6" height="11.5" fill="url(#hatch2)" stroke="#d0d0d0" stroke-width="0.8"/>
<line x1="144.4" y1="514.2" x2="144.4" y2="516.8" stroke="#999" stroke-width="0.6"/>
<text x="144.4" y="509.8" text-anchor="middle">No data</text>
<path d="M188.10,522.65L193.30,517H255.74V528.3H193.30Z" fill="#01665e" stroke="rgba(0,0,0,0.12)" stroke-width="0.6"/>
<path d="M255.74,517H323.38V528.3H255.74Z" fill="#35978f" stroke="rgba(0,0,0,0.12)" stroke-width="0.6"/>
<path d="M323.38,517H391.01V528.3H323.38Z" fill="#80cdc1" stroke="rgba(0,0,0,0.12)" stroke-width="0.6"/>
<path d="M391.01,517H458.65V528.3H391.01Z" fill="#c7eae5" stroke="rgba(0,0,0,0.12)" stroke-width="0.6"/>
<path d="M458.65,517H526.29V528.3H458.65Z" fill="#f6e8c3" stroke="rgba(0,0,0,0.12)" stroke-width="0.6"/>
<path d="M526.29,517H593.93V528.3H526.29Z" fill="#dfc27d" stroke="rgba(0,0,0,0.12)" stroke-width="0.6"/>
<path d="M593.93,517H661.56V528.3H593.93Z" fill="#bf812d" stroke="rgba(0,0,0,0.12)" stroke-width="0.6"/>
<path d="M661.56,517H724.00L729.20,522.65L724.00,528.3H661.56Z" fill="#8c510a" stroke="rgba(0,0,0,0.12)" stroke-width="0.6"/>
<line x1="255.74" y1="514" x2="255.74" y2="528.3" stroke="#888" stroke-width="0.6" stroke-opacity="0.7"/>
<text x="255.74" y="509.8" text-anchor="middle">-100 TWh</text>
<line x1="323.38" y1="514" x2="323.38" y2="528.3" stroke="#888" stroke-width="0.6" stroke-opacity="0.7"/>
<text x="323.38" y="509.8" text-anchor="middle">-30 TWh</text>
<line x1="391.01" y1="514" x2="391.01" y2="528.3" stroke="#888" stroke-width="0.6" stroke-opacity="0.7"/>
<text x="391.01" y="509.8" text-anchor="middle">-10 TWh</text>
<line x1="458.65" y1="514" x2="458.65" y2="528.3" stroke="#888" stroke-width="0.6" stroke-opacity="0.7"/>
<text x="458.65" y="509.8" text-anchor="middle">0 TWh</text>
<line x1="526.29" y1="514" x2="526.29" y2="528.3" stroke="#888" stroke-width="0.6" stroke-opacity="0.7"/>
<text x="526.29" y="509.8" text-anchor="middle">10 TWh</text>
<line x1="593.93" y1="514" x2="593.93" y2="528.3" stroke="#888" stroke-width="0.6" stroke-opacity="0.7"/>
<text x="593.93" y="509.8" text-anchor="middle">30 TWh</text>
<line x1="661.56" y1="514" x2="661.56" y2="528.3" stroke="#888" stroke-width="0.6" stroke-opacity="0.7"/>
<text x="661.56" y="509.8" text-anchor="middle">100 TWh</text>
</svg>
<div id="title" class="t">Absolute annual change in primary energy consumption, 2024</div>
<div id="sub1" class="t sub" style="top:52.5px;transform:scaleX(0.981)">Annual change in primary energy consumption in one year, relative to the previous year. Energy is measured in</div>
<div id="sub2" class="t sub" style="top:70.5px;transform:scaleX(1.015)">terawatt-hours, using the substitution method.</div>
<div id="logo"><div style="padding-top:5px">Our World<br>in Data</div></div>
<div id="foot1" class="t foot" style="top:550px"><b>Data source:</b> U.S. Energy Information Administration (2025); Energy Institute - Statistical Review of World Energy (2025)</div>
<div id="foot2" class="t foot" style="top:570px">OurWorldinData.org/energy | CC BY</div>
</body></html>
